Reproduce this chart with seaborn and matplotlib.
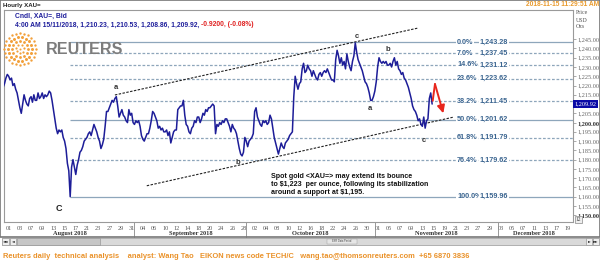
import numpy as np
import pandas as pd
import matplotlib
matplotlib.use("Agg")
import matplotlib.pyplot as plt
import matplotlib.transforms as mtrans
from matplotlib.patches import Rectangle
import seaborn as sns

# ---------------- data ----------------
trade_days = pd.bdate_range("2018-07-31", "2018-11-14")
sample_hours = [0, 6, 12, 18]
price_path = [
    [1219, 1221, 1224, 1226], [1225, 1223, 1224, 1220], [1221, 1218, 1216, 1212],
    [1208, 1205, 1210, 1215], [1212, 1210, 1209, 1213], [1214, 1211, 1215, 1212],
    [1212, 1216, 1213, 1214], [1216, 1213, 1215, 1214], [1215, 1217, 1216, 1212],
    [1207, 1202, 1197, 1194], [1196, 1195, 1196, 1192], [1190, 1186, 1178, 1174],
    [1160, 1176, 1180, 1176], [1172, 1177, 1180, 1184], [1185, 1187, 1190, 1191],
    [1192, 1194, 1195, 1193], [1196, 1199, 1197, 1195], [1192, 1190, 1186, 1188],
    [1191, 1198, 1206, 1206], [1208, 1210, 1212, 1211], [1213, 1214, 1209, 1203],
    [1205, 1207, 1204, 1203], [1201, 1200, 1207, 1204], [1205, 1200, 1199, 1201],
    [1200, 1201, 1198, 1193], [1191, 1190, 1192, 1194], [1194, 1197, 1201, 1206],
    [1205, 1203, 1201, 1197], [1198, 1196, 1197, 1195], [1195, 1196, 1193, 1195],
    [1189, 1192, 1195, 1196], [1196, 1207, 1208, 1209], [1209, 1212, 1204, 1199],
    [1198, 1195, 1194, 1197], [1198, 1201, 1200, 1203], [1203, 1200, 1202, 1205],
    [1204, 1207, 1206, 1208], [1208, 1209, 1210, 1209], [1194, 1199, 1198, 1200],
    [1199, 1201, 1200, 1202], [1202, 1200, 1198, 1195], [1199, 1197, 1196, 1194],
    [1190, 1186, 1183, 1182], [1184, 1192, 1190, 1187], [1190, 1191, 1192, 1194],
    [1206, 1208, 1203, 1201], [1199, 1198, 1201, 1200], [1201, 1199, 1200, 1204],
    [1202, 1197, 1192, 1189], [1186, 1183, 1186, 1189], [1187, 1186, 1189, 1190],
    [1191, 1193, 1194, 1195], [1214, 1225, 1221, 1218], [1221, 1222, 1229, 1232],
    [1227, 1228, 1231, 1229], [1228, 1225, 1228, 1226], [1224, 1223, 1226, 1227],
    [1225, 1227, 1228, 1227], [1229, 1227, 1225, 1223], [1223, 1222, 1234, 1239],
    [1236, 1232, 1235, 1231], [1233, 1229, 1237, 1233], [1230, 1228, 1233, 1236],
    [1243, 1238, 1234, 1232], [1230, 1228, 1225, 1222], [1221, 1219, 1216, 1212],
    [1212, 1214, 1217, 1222], [1230, 1235, 1233, 1232], [1233, 1232, 1233, 1231],
    [1231, 1232, 1230, 1233], [1235, 1231, 1233, 1229], [1228, 1226, 1227, 1224],
    [1223, 1221, 1219, 1216], [1213, 1209, 1207, 1206], [1204, 1201, 1202, 1199],
    [1198, 1203, 1197, 1201], [1202, 1213, 1216, 1210],
]
last_price = 1209.92

fib_pct = [0.0, 7.0, 14.6, 23.6, 38.2, 50.0, 61.8, 76.4, 100.0]
fib_val = [1243.28, 1237.45, 1231.12, 1223.62, 1211.45, 1201.62, 1191.79, 1179.62, 1159.96]
fib_solid = [True, False, False, False, False, True, False, False, True]
fib_start_day = "2018-08-16"

upper_channel_pos = [19.0, 73.2]
upper_channel_price = [1214.9, 1251.0]
lower_channel_pos = [24.7, 79.5]
lower_channel_price = [1165.9, 1202.9]

arrow_pos = [75.85, 76.26, 77.75]
arrow_price = [1211.8, 1220.8, 1205.0]

wave_labels = ["a", "b", "c", "b", "a", "c"]
wave_pos = [19.2, 41.0, 62.2, 67.8, 64.6, 74.3]
wave_price = [1218.7, 1178.6, 1246.7, 1239.7, 1207.7, 1190.2]
big_label = "C"
big_label_pos, big_label_price = 9.0, 1153.4

y_ticks = list(range(1150, 1250, 5))
bold_y_ticks = [1150, 1200]
hidden_y_ticks = [1210]   # covered by the last-price box in the reference

axis_start, axis_end = "2018-08-01", "2018-12-19"

note = ("Spot gold <XAU=> may extend its bounce\n"
        "to $1,223  per ounce, following its stabilization\n"
        "around a support at $1,195.")
footer = ("Reuters daily  technical analysis    analyst: Wang Tao   "
          "EIKON news code TECH/C   wang.tao@thomsonreuters.com  +65 6870 3836")

# ---------------- build frame ----------------
def tpos(d):
    return int(np.busday_count(axis_start, pd.Timestamp(d).date()))

rows = []
for d, vals in zip(trade_days, price_path):
    p = tpos(d)
    for h, v in zip(sample_hours, vals):
        rows.append((p + h / 24.0, v))
df = pd.DataFrame(rows, columns=["pos", "price"])

axis_days = pd.bdate_range(axis_start, axis_end)
n_axis = len(axis_days)

# ---------------- figure ----------------
sns.set_style("white")
plt.rcParams["font.family"] = ["Liberation Sans", "DejaVu Sans"]

W, H = 600, 263
fig = plt.figure(figsize=(6.0, 2.63), dpi=100)
def fx(px): return px / W
def fy(py): return 1 - py / H

ax = fig.add_axes([fx(4), fy(222), fx(573) - fx(4), fy(10) - fy(222)])
XL = (-0.84, 100.95)
YL = (1146.35, 1260.76)

# fib lines
fib_x0 = tpos(fib_start_day)
for v, solid in zip(fib_val, fib_solid):
    ax.hlines(v, fib_x0, XL[1], colors="#8ea6bb", lw=0.9,
              linestyles="-" if solid else (0, (2.2, 1.4)), zorder=1)
for pct, v in zip(fib_pct, fib_val):
    kw = dict(va="center", color="#3b6590", fontsize=5.2, fontweight="bold", zorder=3,
              bbox=dict(boxstyle="square,pad=0.1", fc="white", ec="none"))
    ax.text(80.2, v, f"{pct:.1f}%", ha="left", **kw)
    ax.text(89.3, v, f"{v:,.2f}", ha="right", **kw)

# channel lines
ax.plot(upper_channel_pos, upper_channel_price, color="#222222", lw=0.8, ls=(0, (2.2, 1.3)), zorder=2)
ax.plot(lower_channel_pos, lower_channel_price, color="#222222", lw=0.8, ls=(0, (2.2, 1.3)), zorder=2)

# price line
sns.lineplot(data=df, x="pos", y="price", ax=ax, color="#1d1d98", lw=1.1,
             estimator=None, zorder=4)

# red arrow
ax.plot(arrow_pos[:2], arrow_price[:2], color="#e8261c", lw=1.4, zorder=5,
        solid_capstyle="round")
ax.annotate("", xy=(arrow_pos[2], arrow_price[2]), xytext=(arrow_pos[1], arrow_price[1]),
            arrowprops=dict(arrowstyle="-|>,head_length=0.45,head_width=0.22",
                            color="#e8261c", lw=1.4, shrinkA=0, shrinkB=0), zorder=5)

# wave labels
for t, xp, yp in zip(wave_labels, wave_pos, wave_price):
    ax.text(xp, yp, t, ha="center", va="center", fontsize=5.5, fontweight="bold",
            color="#333333", zorder=6)
ax.text(big_label_pos, big_label_price, big_label, ha="center", va="center",
        fontsize=6.5, fontweight="bold", color="#222222")

# note
ax.text(46.9, 1172.9, note, ha="left", va="top", fontsize=5.1, fontweight="bold",
        color="#111111", linespacing=1.18, zorder=6)

ax.set_xlim(*XL)
ax.set_ylim(*YL)
ax.set_xlabel("")
ax.set_ylabel("")
for s in ax.spines.values():
    s.set_color("#9a9a9a")
    s.set_linewidth(0.8)

# x ticks
ax.set_xticks(list(range(0, n_axis, 2)))
ax.set_xticklabels([d.strftime("%d") for d in axis_days[::2]],
                   fontsize=4.4, color="#555555", family="Liberation Serif")
ax.tick_params(axis="x", length=2, width=0.5, color="#888888", pad=1.2, direction="out")

# y ticks on right
ax.yaxis.tick_right()
ax.set_yticks(y_ticks)
ylabs = ax.set_yticklabels(["" if v in hidden_y_ticks else f"{v:,.2f}" for v in y_ticks],
                           fontsize=4.5, color="#666666", family="Liberation Serif")
for v, lab in zip(y_ticks, ylabs):
    if v in bold_y_ticks:
        lab.set_fontweight("bold")
        lab.set_color("#333333")
ax.tick_params(axis="y", length=2, width=0.5, color="#888888", pad=1.2, direction="out")

# current price box
ybl = mtrans.blended_transform_factory(ax.transAxes, ax.transData)
ax.text(1.003, last_price, f"{last_price:,.2f}", transform=ybl, ha="left", va="center",
        fontsize=4.5, color="white", family="Liberation Serif",
        bbox=dict(boxstyle="square,pad=0.25", fc="#0a0aa6", ec="none"), zorder=10, clip_on=False)

# months & separators
xbl = mtrans.blended_transform_factory(ax.transData, fig.transFigure)
month_groups = pd.Series(range(n_axis), index=axis_days).groupby(axis_days.to_period("M"))
for per, idx in month_groups:
    lo, hi = idx.iloc[0], idx.iloc[-1]
    ax.text((lo + hi + 1) / 2 - 0.5, fy(233.5), per.strftime("%B %Y"), transform=xbl,
            ha="center", va="center", fontsize=4.6, fontweight="bold",
            family="Liberation Serif", color="#333333", clip_on=False)
    if lo > 0:
        ax.plot([lo - 0.5, lo - 0.5], [fy(222), fy(237)], transform=xbl, color="#888888",
                lw=0.6, clip_on=False)

# ---------------- header & decorations ----------------
fig.patches.append(Rectangle((0, fy(237)), 1, 1 - fy(237), transform=fig.transFigure,
                             fill=False, ec="#777777", lw=1.2))
fig.text(fx(3), fy(5), "Hourly XAU=", fontsize=4.4, fontweight="bold", color="#222222",
         va="center", ha="left")
fig.text(fx(599), fy(4.5), "2018-11-15 11:29:51 AM", fontsize=4.8, fontweight="bold",
         color="#e99a2c", va="center", ha="right")
fig.text(fx(15), fy(16.5), "Cndl, XAU=, Bid", fontsize=4.9, fontweight="bold",
         color="#1f1f9c", va="center", ha="left")
t2 = fig.text(fx(15), fy(25), "4:00 AM 15/11/2018, 1,210.23, 1,210.53, 1,208.86, 1,209.92, ",
              fontsize=4.9, fontweight="bold", color="#1f1f9c", va="center", ha="left")
ax.annotate("-0.9200, (-0.08%)", xy=(1, 0), xycoords=t2, va="bottom", ha="left",
            fontsize=4.9, fontweight="bold", color="#e02020", annotation_clip=False)

for i, t in enumerate(["Price", "USD", "Ozs"]):
    fig.text(fx(576), fy(13 + 7 * i), t, fontsize=4.2, color="#555555",
             family="Liberation Serif", va="center", ha="left")

# small "12" box
fig.text(fx(575.5), fy(219.5), "12", fontsize=4.0, color="#444444", family="Liberation Serif",
         va="center", ha="left",
         bbox=dict(boxstyle="square,pad=0.15", fc="#eeeeee", ec="#888888", lw=0.5))

# Reuters logo
lax = fig.add_axes([fx(2), fy(67), 36 / W, 36 / H])
lax.set_xlim(0, 36)
lax.set_ylim(0, 36)
lax.axis("off")
for r, n, dpx in [(0, 1, 2.0), (4, 7, 2.2), (8, 12, 2.8), (12, 18, 3.0), (16, 24, 2.4)]:
    ang = np.linspace(0, 2 * np.pi, n, endpoint=False) + (0.2 if n % 2 else 0)
    lax.scatter(18 + r * np.cos(ang), 18 + r * np.sin(ang), s=(dpx * 0.72) ** 2,
                color="#f2a03a", linewidths=0)
fig.text(fx(46), fy(49.5), "REUTERS", fontsize=11.6, fontweight="bold", color="#7d7d7d",
         va="center", ha="left")

# scrollbar
def frect(x0, y0, x1, y1, fc, ec="#999999", lw=0.5):
    fig.patches.append(Rectangle((fx(x0), fy(y1)), fx(x1) - fx(x0), fy(y0) - fy(y1),
                                 transform=fig.transFigure, fc=fc, ec=ec, lw=lw))
frect(2, 237.5, 599, 245, "#d9d9d9")
frect(17, 238, 100, 244.5, "#c6c6c6")
frect(327, 239, 357, 243.5, "#e6e6e6", lw=0.3)
fig.text(fx(342), fy(241.3), "ESR Data Period", fontsize=1.8, color="#444444",
         ha="center", va="center")
for x0, x1, s in [(2, 9, "◄◄"), (10, 16, "◄"), (586, 592, "►"), (593, 599, "►►")]:
    frect(x0, 238, x1, 244.5, "#eeeeee")
    fig.text(fx((x0 + x1) / 2), fy(241.3), s, fontsize=2.6, color="#222222",
             ha="center", va="center", family="DejaVu Sans")

fig.text(fx(3), fy(256.5), footer, fontsize=5.45, fontweight="bold", color="#ea922a",
         va="center", ha="left")

fig.savefig("out.png", dpi=100)
